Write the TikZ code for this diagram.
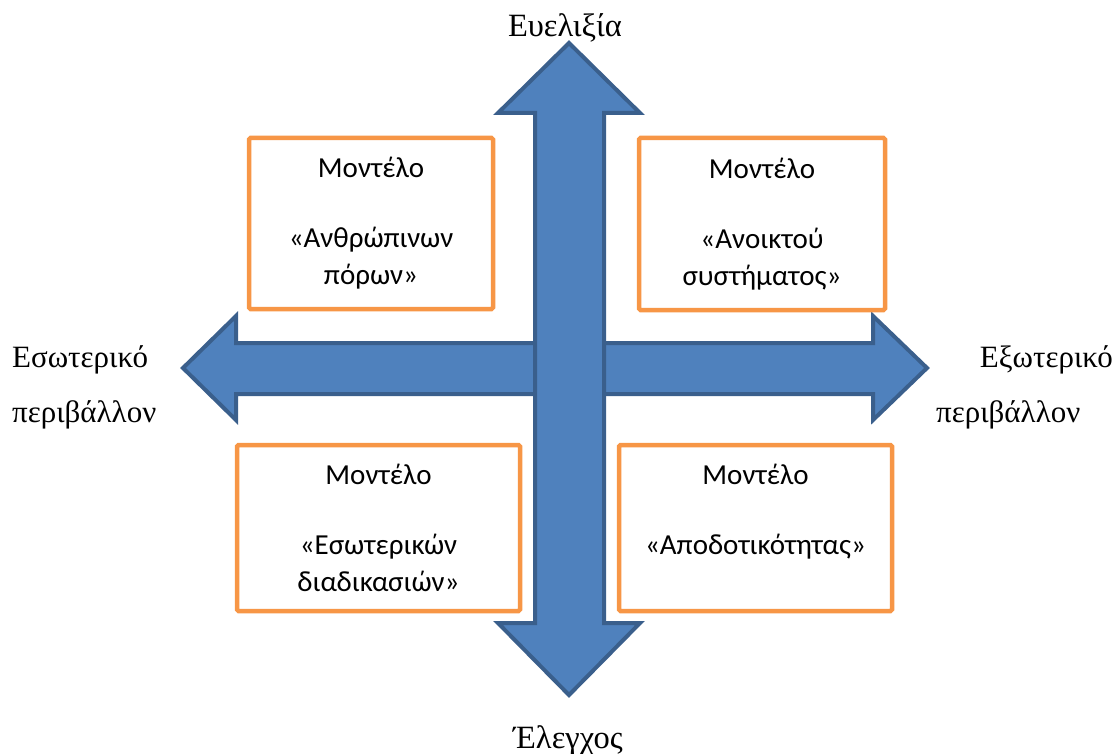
\documentclass[tikz,border=0pt]{standalone}
\usepackage{fontspec}
\setmainfont{Liberation Serif}
\newfontfamily\boxfont{Carlito}
\definecolor{arrowfill}{HTML}{4F81BD}
\definecolor{arrowline}{HTML}{3A5F8C}
\definecolor{boxline}{HTML}{F79646}
\tikzset{
  bigarrow/.style={fill=arrowfill, draw=arrowline, line width=4pt, line join=miter},
  modelbox/.style={draw=boxline, line width=4.5pt, fill=white, rounded corners=1.5pt,
    inner sep=0pt, align=center, font=\boxfont\fontsize{29}{37}\selectfont},
  axislabel/.style={inner sep=0pt, font=\fontsize{31}{34}\selectfont},
  toplabel/.style={inner sep=0pt, font=\fontsize{32.5}{36}\selectfont}
}
\begin{document}
\begin{tikzpicture}[x=1pt,y=-1pt]
\useasboundingbox (0,0) rectangle (1118,754);
% horizontal arrows
\draw[bigarrow] (569,343) -- (236,343) -- (236,316) -- (183,368) -- (236,420) -- (236,394) -- (569,394);
\draw[bigarrow] (569,343) -- (873,343) -- (873,316) -- (927,368) -- (873,420) -- (873,394) -- (569,394);
% vertical arrow
\draw[bigarrow] (569,43) -- (640,113) -- (604,113) -- (604,623) -- (640,623) -- (569,695)
  -- (498,623) -- (535,623) -- (535,113) -- (498,113) -- cycle;
% boxes
\node[modelbox, minimum width=244pt, minimum height=171pt] (tl) at (371,223.5)
  {Μοντέλο\\[33pt]«Ανθρώπινων\\πόρων»};
\node[modelbox, minimum width=246pt, minimum height=172pt] (tr) at (762,224)
  {Μοντέλο\\[33pt]«Ανοικτού\\συστήματος»};
\node[modelbox, minimum width=283pt, minimum height=166pt] (bl) at (378.5,528)
  {Μοντέλο\\[33pt]«Εσωτερικών\\διαδικασιών»};
\node[modelbox, minimum width=273pt, minimum height=166pt] (br) at (755.5,528)
  {Μοντέλο\\[33pt]«Αποδοτικότητας»\\[0pt]\mbox{}};
% labels
\node[toplabel, anchor=base] (flex) at (565,37) {Ευελιξία};
\node[toplabel, anchor=base] (ctrl) at (568,748) {Έλεγχος};
\node[axislabel, anchor=base west] (int1) at (12,367) {Εσωτερικό};
\node[axislabel, anchor=base west] (int2) at (12,422) {περιβάλλον};
\node[axislabel, anchor=base east] (ext1) at (1113,367) {Εξωτερικό};
\node[axislabel, anchor=base west] (ext2) at (936,422) {περιβάλλον};
\end{tikzpicture}
\end{document}
